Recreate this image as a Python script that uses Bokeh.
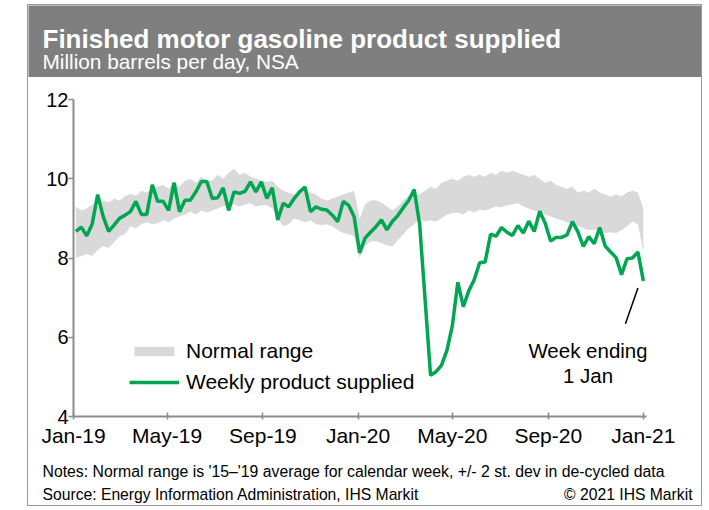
import pandas as pd
from bokeh.plotting import figure
from bokeh.layouts import column
from bokeh.models import (Range1d, FixedTicker, Label, Legend, LegendItem,
                          ColumnDataSource, DatetimeTickFormatter)
from bokeh.embed import file_html
from bokeh.resources import INLINE

# ---------------- data ----------------
first_week_ending = "2019-01-04"

supplied = [
    8.67, 8.78, 8.56, 8.86, 9.60, 9.05, 8.67, 8.83, 9.00, 9.08,
    9.17, 9.43, 9.10, 9.10, 9.85, 9.43, 9.43, 9.20, 9.90, 9.17,
    9.46, 9.46, 9.67, 9.93, 9.93, 9.50, 9.52, 9.77, 9.20, 9.67,
    9.63, 9.68, 9.92, 9.67, 9.92, 9.50, 9.77, 8.96, 9.38, 9.29,
    9.50, 9.67, 9.79, 9.17, 9.29, 9.23, 9.21, 9.08, 8.92, 9.43,
    9.33, 9.04, 8.13, 8.50, 8.65, 8.79, 8.96, 8.71, 8.92, 9.07,
    9.27, 9.45, 9.73, 8.85, 6.95, 5.04, 5.13, 5.29, 5.67, 6.30,
    7.39, 6.77, 7.17, 7.45, 7.88, 7.90, 8.60, 8.55, 8.77, 8.65,
    8.57, 8.82, 8.63, 8.93, 8.67, 9.18, 8.88, 8.43, 8.52, 8.52,
    8.58, 8.92, 8.66, 8.29, 8.54, 8.36, 8.77, 8.30, 8.15, 8.01,
    7.58, 7.98, 8.00, 8.15, 7.42,
]

range_upper = [
    9.30, 9.20, 9.25, 9.35, 9.30, 9.45, 9.40, 9.50, 9.45, 9.55,
    9.62, 9.58, 9.70, 9.65, 9.75, 9.80, 9.85, 9.75, 9.90, 9.80,
    9.95, 10.00, 9.90, 10.05, 9.95, 9.95, 10.10, 10.00, 10.15, 10.25,
    10.10, 10.15, 10.05, 10.00, 9.95, 9.92, 9.95, 9.80, 9.70, 9.65,
    9.60, 9.65, 9.70, 9.65, 9.60, 9.50, 9.45, 9.50, 9.55, 9.60,
    9.65, 9.70, 9.00, 9.35, 9.45, 9.46, 9.40, 9.30, 9.20, 9.30,
    9.45, 9.58, 9.55, 9.60, 9.70, 9.80, 9.75, 9.90, 9.95, 10.00,
    9.95, 10.05, 10.10, 10.05, 10.10, 10.05, 10.15, 10.10, 10.20, 10.15,
    10.20, 10.15, 10.10, 10.05, 10.10, 10.00, 9.90, 9.95, 9.85, 9.80,
    9.75, 9.80, 9.65, 9.70, 9.65, 9.75, 9.65, 9.60, 9.55, 9.60,
    9.55, 9.65, 9.70, 9.65, 9.25,
]

range_lower = [
    8.00, 8.05, 8.10, 8.05, 8.20, 8.30, 8.25, 8.40, 8.55, 8.60,
    8.80, 8.75, 8.85, 8.90, 8.85, 8.88, 8.95, 8.90, 9.00, 9.05,
    9.10, 9.17, 9.10, 9.20, 9.15, 9.20, 9.25, 9.30, 9.33, 9.35,
    9.30, 9.35, 9.38, 9.30, 9.33, 9.33, 9.25, 9.00, 8.80, 8.85,
    9.00, 8.95, 8.90, 8.95, 8.85, 8.83, 8.85, 8.80, 8.70, 8.63,
    8.60, 8.55, 8.00, 8.30, 8.42, 8.42, 8.38, 8.32, 8.29, 8.45,
    8.60, 8.75, 8.85, 9.00, 8.92, 8.95, 8.92, 9.00, 9.10, 9.13,
    9.15, 9.10, 9.20, 9.15, 9.21, 9.20, 9.25, 9.30, 9.28, 9.33,
    9.35, 9.38, 9.30, 9.25, 9.20, 9.17, 9.10, 9.05, 9.00, 8.95,
    8.90, 8.85, 8.80, 8.75, 8.70, 8.72, 8.68, 8.63, 8.65, 8.63,
    8.70, 8.80, 8.92, 8.85, 8.15,
]

tick_dates = ["2019-01-01", "2019-05-01", "2019-09-01", "2020-01-01",
              "2020-05-01", "2020-09-01", "2021-01-01"]
y_ticks = [4, 6, 8, 10, 12]

title_text = "Finished motor gasoline product supplied"
subtitle_text = "Million  barrels per day, NSA"
notes_text = "Notes: Normal range is '15\u2013'19 average for calendar week, +/- 2 st. dev in de-cycled data"
source_text = "Source: Energy Information Administration, IHS Markit"
copyright_text = "\u00a9 2021 IHS Markit"
callout_lines = ["Week ending", "1 Jan"]

# ---------------- styling ----------------
FONT = "Liberation Sans"
GREEN = "#00a651"
GREY_BAND = "#d9d9d9"
HEADER_GREY = "#7f7f7f"
AXIS_GREY = "#8c8c8c"
INNER_W = 673


def blank_panel(height, bg):
    f = figure(width=INNER_W, height=height, output_backend="svg",
               toolbar_location=None, x_axis_location=None, y_axis_location=None,
               x_range=Range1d(0, INNER_W), y_range=Range1d(height, 0),
               min_border_left=0, min_border_right=0,
               min_border_top=0, min_border_bottom=0, frame_align=False)
    f.grid.visible = False
    f.outline_line_color = None
    f.background_fill_color = bg
    f.border_fill_color = bg
    return f


def add_text(f, text, x, y, size, color="black", bold=False, align="left"):
    f.add_layout(Label(x=x, y=y, text=text, text_font=FONT, text_font_size=size,
                       text_color=color, text_font_style="bold" if bold else "normal",
                       text_align=align, text_baseline="alphabetic"))


# ---------------- header ----------------
header = blank_panel(72, HEADER_GREY)
add_text(header, title_text, 14, 33, "26px", color="white", bold=True)
add_text(header, subtitle_text, 14, 56, "20.8px", color="white")

# ---------------- chart ----------------
dates = pd.date_range(first_week_ending, periods=len(supplied), freq="7D")
src = ColumnDataSource(dict(date=dates, supplied=supplied,
                            upper=range_upper, lower=range_lower))

p = figure(width=INNER_W, height=372, x_axis_type="datetime",
           output_backend="svg", toolbar_location=None,
           x_range=Range1d(pd.Timestamp("2019-01-01"),
                           pd.Timestamp("2021-01-01") + pd.Timedelta(days=4)),
           y_range=Range1d(4, 12),
           min_border_left=45, min_border_right=55,
           min_border_top=22, min_border_bottom=32, frame_align=False)
p.outline_line_color = None
p.xgrid.visible = False
p.ygrid.visible = False
p.background_fill_color = "white"
p.border_fill_color = "white"

band = p.varea(x="date", y1="lower", y2="upper", source=src,
               fill_color=GREY_BAND)
line = p.line(x="date", y="supplied", source=src, line_color=GREEN,
              line_width=3.5)

p.yaxis.ticker = FixedTicker(ticks=y_ticks)
p.xaxis.ticker = FixedTicker(ticks=[pd.Timestamp(d).value // 10**6 for d in tick_dates])
p.xaxis.formatter = DatetimeTickFormatter(days="%b-%y", months="%b-%y", years="%b-%y")
for ax in (p.xaxis[0], p.yaxis[0]):
    ax.axis_line_color = AXIS_GREY
    ax.axis_line_width = 2
    ax.major_tick_line_color = AXIS_GREY
    ax.major_tick_line_width = 1.5
    ax.minor_tick_line_color = None
    ax.major_label_text_font = FONT
    ax.major_label_text_color = "black"
p.xaxis.major_label_text_font_size = "21px"
p.yaxis.major_label_text_font_size = "20px"
p.yaxis.major_tick_out = 5
p.yaxis.major_tick_in = 0
p.yaxis.major_label_standoff = 0
p.xaxis.major_tick_out = 3
p.xaxis.major_tick_in = 4
p.xaxis.major_label_standoff = 4

legend = Legend(items=[LegendItem(label="Normal range", renderers=[band]),
                       LegendItem(label="Weekly product supplied", renderers=[line])],
                location=(56, 22), orientation="vertical",
                glyph_width=50, glyph_height=12, label_height=24,
                label_standoff=7, spacing=7, padding=0, margin=0,
                border_line_color=None, background_fill_alpha=0,
                label_text_font=FONT, label_text_font_size="21px",
                label_text_color="black")
p.add_layout(legend)

# call-out for the latest week
callout_x = pd.Timestamp("2020-10-22").value // 10**6
p.add_layout(Label(x=callout_x, y=5.67, text=callout_lines[0], text_font=FONT,
                   text_font_size="20.5px", text_align="center",
                   text_baseline="alphabetic", text_color="black"))
p.add_layout(Label(x=callout_x, y=5.04, text=callout_lines[1], text_font=FONT,
                   text_font_size="20.5px", text_align="center",
                   text_baseline="alphabetic", text_color="black"))
last_date = dates[-1]
last_val = supplied[-1]
p.line(x=[last_date - pd.Timedelta(days=7), last_date - pd.Timedelta(days=23)],
       y=[last_val - 0.18, last_val - 1.08], line_color="black", line_width=1.5)

# ---------------- footer ----------------
footer = blank_panel(56, "white")
add_text(footer, notes_text, 14, 22, "15.8px")
add_text(footer, source_text, 14, 45, "15.7px")
add_text(footer, copyright_text, 664, 45, "15.7px", align="right")

layout = column(header, p, footer, spacing=0,
                styles={"margin-left": "27px", "margin-top": "4px",
                        "box-sizing": "content-box",
                        "border": "1.5px solid #999999"})

open("out.html", "w").write(file_html(layout, INLINE))
